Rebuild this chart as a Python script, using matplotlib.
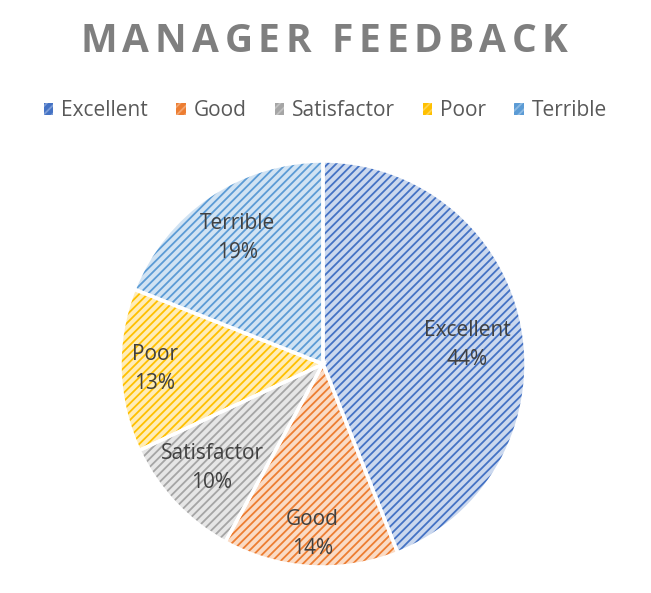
import matplotlib.pyplot as plt
import numpy as np
from matplotlib.patches import Patch
from matplotlib.colors import to_rgb

plt.rcParams['font.family'] = ['Open Sans', 'DejaVu Sans']
plt.rcParams['hatch.linewidth'] = 1.3

labels = ['Excellent', 'Good', 'Satisfactor', 'Poor', 'Terrible']
values = [44, 14, 10, 13, 19]
colors = ['#4472C4', '#ED7D31', '#A5A5A5', '#FFC000', '#5B9BD5']
title = 'MANAGER FEEDBACK'


def tint(c, amt=0.72):
    r, g, b = to_rgb(c)
    return (r + (1 - r) * amt, g + (1 - g) * amt, b + (1 - b) * amt)


light = [tint(c) for c in colors]

W, H = 651, 593
fig = plt.figure(figsize=(6.51, 5.93), dpi=100)
ax = fig.add_axes([0.0, 0.0, 1.0, 1.0])

# pixel coords of pie (from top-left), converted to data coords (y up)
cx, cy, R = 323, H - 364, 203

common = dict(startangle=90, counterclock=False, center=(cx, cy), radius=R, frame=True)
w1, _ = ax.pie(values, colors=light, wedgeprops=dict(linewidth=0), **common)
w2, _ = ax.pie(values, colors=light, wedgeprops=dict(linewidth=0), **common)
for w, c in zip(w2, colors):
    w.set_facecolor('none')
    w.set_edgecolor(c)
    w.set_hatch('////')
ax.pie(values, colors=light,
       wedgeprops=dict(linewidth=2.5, edgecolor='white', fill=False), **common)

ax.set_xlim(0, W)
ax.set_ylim(0, H)
ax.set_aspect('auto')
ax.axis('off')

# data labels ("best fit" placement: radius fraction and small angle shift)
dist = [0.715, 0.84, 0.75, 0.83, 0.75]
shift = [-3.3, 0, 0, 0, 0]
for w, lab, v, d, s in zip(w1, labels, values, dist, shift):
    ang = np.deg2rad((w.theta1 + w.theta2) / 2 + s)
    x = cx + d * R * np.cos(ang)
    y = cy + d * R * np.sin(ang)
    ax.text(x, y, '%s\n%d%%' % (lab, v), ha='center', va='center',
            fontsize=15, color='#404040', linespacing=1.5)

# title with letter spacing
renderer = fig.canvas.get_renderer()
tracking = 5.5
chars = []
for ch in title:
    t = ax.text(0, H - 41, ch, ha='left', va='center', fontsize=28,
                fontweight='bold', color='#7F7F7F')
    chars.append((t, t.get_window_extent(renderer).width))
total = sum(wd for _, wd in chars) + tracking * (len(chars) - 1)
x0 = 324 - total / 2
for t, wd in chars:
    t.set_x(x0)
    x0 += wd + tracking

handles = [Patch(facecolor=c, edgecolor=tint(c, 0.3), hatch='////', linewidth=0)
           for c in colors]
leg = fig.legend(handles, labels, loc='center', bbox_to_anchor=(0.5, 1 - 111 / H),
                 ncol=5, frameon=False, fontsize=15, handlelength=0.45,
                 handleheight=0.45, handletextpad=0.38, columnspacing=1.35)
for t in leg.get_texts():
    t.set_color('#595959')

fig.savefig('out.png', dpi=100)
